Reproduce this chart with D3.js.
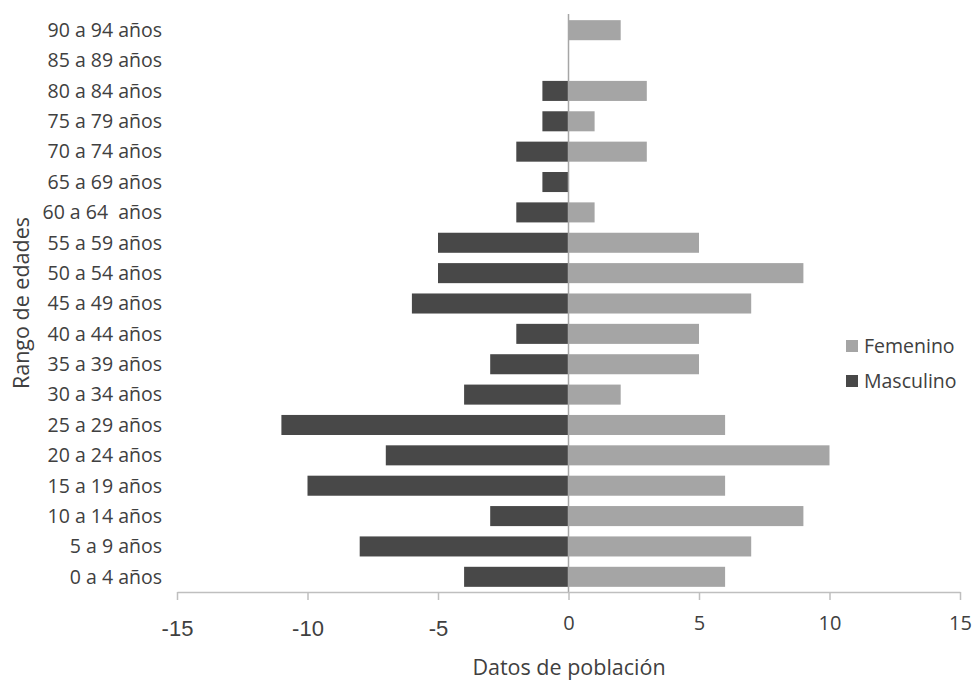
<!DOCTYPE html>
<html>
<head>
<meta charset="utf-8">
<script src="https://cdn.jsdelivr.net/npm/d3@7"></script>
<style>
  body { margin: 0; background: #fff; }
  svg { display: block; }
</style>
</head>
<body>
<svg id="chart" width="973" height="681"></svg>
<script>
// age groups, bottom to top
const ageGroups = ["0 a 4 años", "5 a 9 años", "10 a 14 años", "15 a 19 años", "20 a 24 años",
  "25 a 29 años", "30 a 34 años", "35 a 39 años", "40 a 44 años", "45 a 49 años",
  "50 a 54 años", "55 a 59 años", "60 a 64  años", "65 a 69 años", "70 a 74 años",
  "75 a 79 años", "80 a 84 años", "85 a 89 años", "90 a 94 años"]
const femenino = [6, 7, 9, 6, 10, 6, 2, 5, 5, 7, 9, 5, 1, 0, 3, 1, 3, 0, 2]
const masculino = [-4, -8, -3, -10, -7, -11, -4, -3, -2, -6, -5, -5, -2, -1, -2, -1, -1, 0, 0]
const xTicks = [-15, -10, -5, 0, 5, 10, 15]
const seriesNames = ["Femenino", "Masculino"]

const colors = {Femenino: "#a5a5a5", Masculino: "#484848"}
const textColor = "#404040"

const svg = d3.select("#chart")

const x = d3.scaleLinear().domain([-15, 15]).range([177, 960])
const y = d3.scaleBand()
  .domain(ageGroups.slice().reverse())
  .range([15, 592])
  .paddingInner(0.34)
  .paddingOuter(0.17)

//bars for both sexes
const rows = ageGroups.map((g, i) => ({group: g, f: femenino[i], m: masculino[i]}))

svg.append("g").selectAll("rect")
  .data(rows)
  .join("rect")
  .attr("x", x(0))
  .attr("y", d => y(d.group))
  .attr("width", d => x(d.f) - x(0))
  .attr("height", y.bandwidth())
  .attr("fill", colors.Femenino)

svg.append("g").selectAll("rect")
  .data(rows)
  .join("rect")
  .attr("x", d => x(d.m))
  .attr("y", d => y(d.group))
  .attr("width", d => x(0) - x(d.m))
  .attr("height", y.bandwidth())
  .attr("fill", colors.Masculino)

//zero line (category axis)
svg.append("line")
  .attr("x1", x(0)).attr("x2", x(0))
  .attr("y1", 14).attr("y2", 592)
  .attr("stroke", "#a6a6a6")
  .attr("stroke-width", 1.5)

//x axis
const xAxis = svg.append("g")
  .attr("transform", "translate(0,592)")
  .call(d3.axisBottom(x).tickValues(xTicks).tickSize(8).tickSizeOuter(0).tickPadding(0)
    .tickFormat(d => d))
xAxis.select(".domain").attr("stroke", "#bfbfbf").attr("stroke-width", 1.5)
xAxis.selectAll(".tick line").attr("stroke", "#bfbfbf").attr("stroke-width", 1.5)
xAxis.selectAll(".tick text")
  .attr("fill", textColor)
  .attr("dy", null)
  .attr("y", d => d < 0 ? 44 : 38)
  .attr("font-family", d => d < 0 ? "Liberation Sans, Arial, sans-serif" : "Open Sans, sans-serif")
  .attr("font-size", d => d < 0 ? 22 : 20)

//category labels
svg.append("g").selectAll("text")
  .data(ageGroups)
  .join("text")
  .attr("x", 162)
  .attr("y", d => y(d) + y.bandwidth() / 2)
  .attr("dy", "0.35em")
  .attr("text-anchor", "end")
  .attr("font-family", "Open Sans, sans-serif")
  .attr("font-size", 19.5)
  .attr("fill", textColor)
  .style("white-space", "pre")
  .text(d => d)

//axis titles
svg.append("text")
  .attr("transform", "translate(29,303) rotate(-90)")
  .attr("text-anchor", "middle")
  .attr("font-family", "Open Sans, sans-serif")
  .attr("font-size", 21.5)
  .attr("fill", textColor)
  .text("Rango de edades")

svg.append("text")
  .attr("x", 569)
  .attr("y", 675)
  .attr("text-anchor", "middle")
  .attr("font-family", "Open Sans, sans-serif")
  .attr("font-size", 21.5)
  .attr("fill", textColor)
  .text("Datos de población")

//legend
const legend = svg.append("g").attr("transform", "translate(846,346)")
const li = legend.selectAll("g")
  .data(seriesNames)
  .join("g")
  .attr("transform", (d, i) => `translate(0,${i * 35})`)
li.append("rect")
  .attr("x", 0).attr("y", -6)
  .attr("width", 12).attr("height", 12)
  .attr("fill", d => colors[d])
li.append("text")
  .attr("x", 18)
  .attr("dy", "0.35em")
  .attr("font-family", "Open Sans, sans-serif")
  .attr("font-size", 19.5)
  .attr("fill", textColor)
  .text(d => d)
</script>
</body>
</html>
